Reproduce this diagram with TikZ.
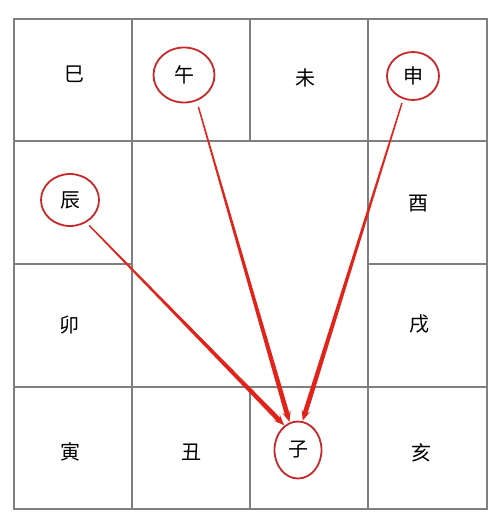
\documentclass[tikz,border=0pt]{standalone}
\usepackage{fontspec}
\newfontfamily\cjk{Noto Sans CJK SC}
\usetikzlibrary{shapes.geometric,calc}
\definecolor{gridgray}{HTML}{7F7F7F}
\definecolor{ringred}{HTML}{C8282A}
\definecolor{arrowred}{HTML}{E2231A}
\tikzset{
  gridline/.style={draw=gridgray,line width=1.3pt},
  zhi/.style={font=\cjk\fontsize{20}{20}\selectfont,inner sep=0pt,text=black},
  ring/.style={zhi,ellipse,draw=ringred,line width=1.8pt,inner sep=0pt},
}
\begin{document}
\begin{tikzpicture}[x=1pt,y=-1pt]
\useasboundingbox[fill=white] (0,0) rectangle (500,530);
% grid cells
\draw[gridline] (14,19) rectangle (132,141);
\draw[gridline] (132,19) rectangle (250,141);
\draw[gridline] (250,19) rectangle (368,141);
\draw[gridline] (368,19) rectangle (487,141);
\draw[gridline] (14,141) rectangle (132,264);
\draw[gridline] (14,264) rectangle (132,387);
\draw[gridline] (368,141) rectangle (487,264);
\draw[gridline] (368,264) rectangle (487,387);
\draw[gridline] (14,387) rectangle (132,509);
\draw[gridline] (132,387) rectangle (250,509);
\draw[gridline] (250,387) rectangle (368,509);
\draw[gridline] (368,387) rectangle (487,509);
% plain labels
\node[zhi] (si)   at (74,74)   {巳};
\node[zhi] (wei)  at (305,78)  {未};
\node[zhi] (you)  at (418,204) {酉};
\node[zhi] (mao)  at (69,325)  {卯};
\node[zhi] (xu)   at (419,324) {戌};
\node[zhi] (yin)  at (70,452)  {寅};
\node[zhi] (chou) at (191,452) {丑};
\node[zhi] (hai)  at (421,453) {亥};
% circled labels
\node[ring,minimum width=61pt,minimum height=55pt] (wu)   at (184,75)  {午};
\node[ring,minimum width=52pt,minimum height=48pt] (shen) at (413,76)  {申};
\node[ring,minimum width=58pt,minimum height=52pt] (chen) at (70,200)  {辰};
\node[ring,minimum width=47pt,minimum height=57pt] (zi)   at (298,450) {子};
% tapered arrows
\foreach \src/\sa/\ta/\gap in {wu/-64/107/6, shen/-113/81/4, chen/-54/119/4}{
  \coordinate (s) at (\src.\sa);
  \coordinate (t) at (zi.\ta);
  \coordinate (S) at ($(s)!\gap pt!(t)$);
  \coordinate (T) at ($(t)!0.5pt!(s)$);
  \coordinate (B) at ($(T)!11pt!(S)$);
  \coordinate (N) at ($(T)!8pt!(S)$);
  \fill[arrowred] ($(S)!0.7pt!90:(T)$) -- ($(N)!2.4pt!-90:(S)$) -- ($(B)!4.5pt!-90:(S)$) -- (T)
    -- ($(B)!4.5pt!90:(S)$) -- ($(N)!2.4pt!90:(S)$) -- ($(S)!0.7pt!-90:(T)$) -- cycle;
}
\end{tikzpicture}
\end{document}
